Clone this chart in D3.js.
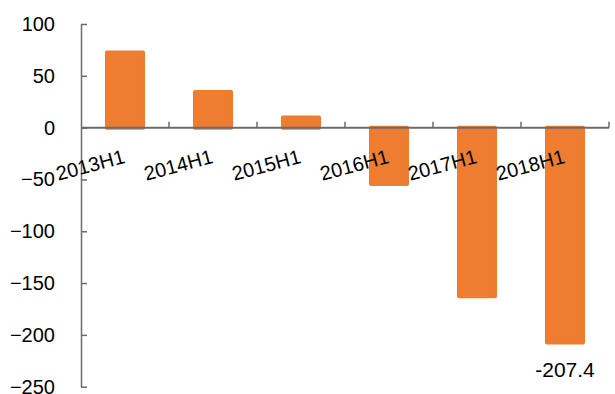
<!DOCTYPE html>
<html>
<head>
<meta charset="utf-8">
<script src="https://cdn.jsdelivr.net/npm/d3@7"></script>
<style>
  html, body { margin: 0; padding: 0; background: #fff; }
  svg { display: block; font-family: "Liberation Sans", Arial, sans-serif; }
</style>
</head>
<body>
<svg id="chart" width="615" height="394"></svg>
<script>
// Half-year values
const categories = ["2013H1", "2014H1", "2015H1", "2016H1", "2017H1", "2018H1"];
const values = [72.4, 34.5, 9.7, -54.3, -162.7, -207.4];
const yTicks = [100, 50, 0, -50, -100, -150, -200, -250];
const labelled = [{ category: "2018H1", value: -207.4, text: "-207.4" }];

const svg = d3.select("#chart");
const orange = "#ED7D31";
const axisColor = "#6b6b6b";

const plotLeft = 81, plotRight = 609, plotTop = 24, plotBottom = 386.7;

const x = d3.scaleBand().domain(categories).range([plotLeft, plotRight]);
const y = d3.scaleLinear().domain([-250, 100]).range([plotBottom, plotTop]);

const barW = x.bandwidth() * 0.41;

// Bars
svg.append("g").selectAll("rect")
  .data(categories.map((c, i) => ({ c, v: values[i] })))
  .join("rect")
  .attr("x", d => x(d.c) + (x.bandwidth() - barW) / 2)
  .attr("y", d => y(Math.max(0, d.v)))
  .attr("width", barW)
  .attr("height", d => Math.abs(y(d.v) - y(0)))
  .attr("fill", orange)
  .attr("stroke", orange)
  .attr("stroke-width", 4)
  .attr("stroke-linejoin", "round");

// Y axis
const yAxis = d3.axisLeft(y).tickValues(yTicks).tickSizeInner(-6).tickSizeOuter(0).tickPadding(26);
const gy = svg.append("g").attr("transform", `translate(${plotLeft},0)`).call(yAxis);
gy.select(".domain").attr("stroke", axisColor).attr("stroke-width", 1.5);
gy.selectAll(".tick line").attr("stroke", axisColor).attr("stroke-width", 1.5);
gy.selectAll(".tick text")
  .attr("font-size", 20)
  .attr("fill", "#000")
  .attr("font-family", "Liberation Sans, Arial, sans-serif");

// Zero baseline with category boundary ticks
const gx = svg.append("g");
gx.append("line")
  .attr("x1", plotLeft).attr("x2", plotRight)
  .attr("y1", y(0)).attr("y2", y(0))
  .attr("stroke", axisColor).attr("stroke-width", 2);
const bounds = categories.map(c => x(c) + x.bandwidth());
gx.selectAll("line.b")
  .data(bounds)
  .join("line")
  .attr("class", "b")
  .attr("x1", d => d).attr("x2", d => d)
  .attr("y1", y(0)).attr("y2", y(0) - 6)
  .attr("stroke", axisColor).attr("stroke-width", 1.5);

// Category labels (rotated)
gx.selectAll("text")
  .data(categories)
  .join("text")
  .attr("transform", c => `translate(${x(c) + x.bandwidth() / 2 + 1},${y(0) + 35}) rotate(-15)`)
  .attr("text-anchor", "end")
  .attr("font-size", 20)
  .attr("fill", "#000")
  .text(c => c);

// Value label
svg.append("g").selectAll("text")
  .data(labelled)
  .join("text")
  .attr("x", d => x(d.category) + x.bandwidth() / 2)
  .attr("y", d => y(d.value) + 34)
  .attr("text-anchor", "middle")
  .attr("font-size", 21)
  .attr("fill", "#000")
  .text(d => d.text);
</script>
</body>
</html>
